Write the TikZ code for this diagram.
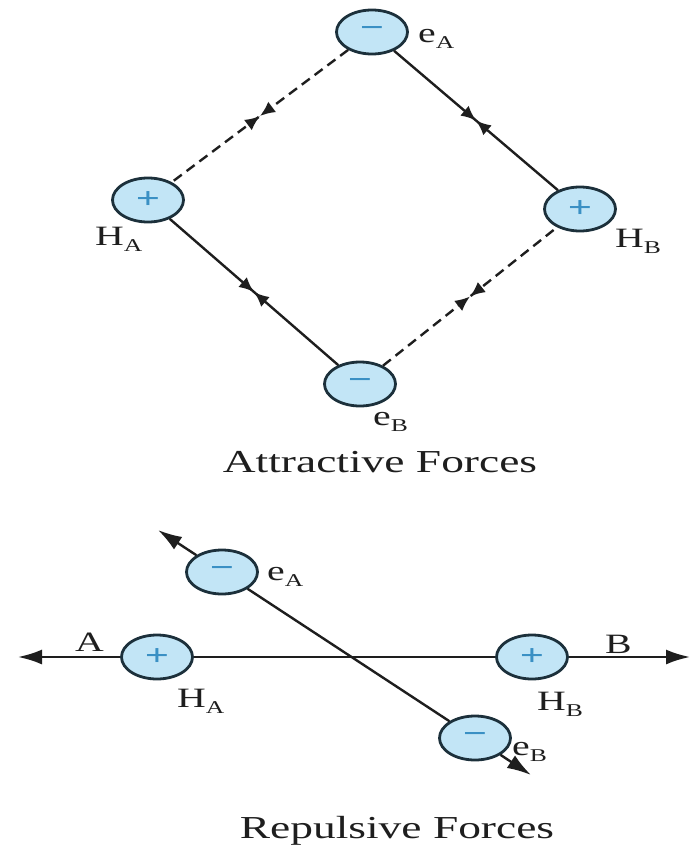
\documentclass[tikz,border=0pt]{standalone}
\usepackage{fontspec}
\setmainfont[FakeStretch=1.42]{Liberation Serif}
\usetikzlibrary{arrows.meta, shapes.geometric, decorations.markings}
\definecolor{ionfill}{HTML}{C2E5F6}
\definecolor{iondraw}{HTML}{1C303B}
\definecolor{signblue}{HTML}{3A90C4}
\definecolor{inkgray}{HTML}{1E1E1E}
\newcommand{\lowsub}[1]{\raisebox{-6pt}{\fontsize{18}{18}\selectfont #1}}
\tikzset{
  ion/.style={ellipse, draw=iondraw, fill=ionfill, line width=2.8pt, minimum width=71pt,
    minimum height=44pt, inner sep=0pt, text=signblue, font=\fontsize{30}{30}\selectfont\bfseries},
  lbl/.style={anchor=base west, inner sep=0pt, font=\fontsize{28}{30}\selectfont, text=inkgray},
  heading/.style={inner sep=0pt, font=\fontsize{32}{36}\selectfont, text=inkgray},
  arr/.style={-{Latex[length=24pt, width=15pt]}, line width=2.4pt, inkgray},
  bond/.style={line width=2.4pt, inkgray},
  pull/.style={bond, postaction={decorate},
    decoration={markings,
      mark=at position 0.5 with {\arrow{Latex[length=15pt, width=13pt]}},
      mark=at position 0.5 with {\arrowreversed{Latex[length=15pt, width=13pt]}}}},
  dashpull/.style={pull, dash pattern=on 10pt off 6pt},
}
\begin{document}
\begin{tikzpicture}[x=1pt, y=-1pt]
  \useasboundingbox (0,0) rectangle (693,849);
  % attractive forces
  \node[ion] (eA1) at (372,32) {−};
  \node[ion] (HA1) at (148,200) {+};
  \node[ion] (HB1) at (580,209) {+};
  \node[ion] (eB1) at (360,384) {−};

  \draw[dashpull] (eA1) -- (HA1);
  \draw[pull] (eA1) -- (HB1);
  \draw[pull] (HA1) -- (eB1);
  \draw[dashpull] (eB1) -- (HB1);

  \node[lbl] (eA1l) at (418,42) {e\lowsub{A}};
  \node[lbl] (HA1l) at (95,245) {H\lowsub{A}};
  \node[lbl] (HB1l) at (615,247) {H\lowsub{B}};
  \node[lbl] (eB1l) at (373,425) {e\lowsub{B}};
  \node[heading] (att) at (380,462) {Attractive Forces};

  % repulsive forces
  \node[ion] (eA2) at (222,572) {−};
  \node[ion] (HA2) at (157,657) {+};
  \node[ion] (HB2) at (532,657) {+};
  \node[ion] (eB2) at (475,738) {−};
  \coordinate (Aend) at (18,657);
  \coordinate (Bend) at (690,657);
  \coordinate (eAend) at (158,530);
  \coordinate (eBend) at (531,775);

  \draw[arr] (HA2) -- (Aend);
  \draw[bond] (HA2) -- (HB2);
  \draw[arr] (HB2) -- (Bend);
  \draw[arr] (eA2) -- (eAend);
  \draw[bond] (eA2) -- (eB2);
  \draw[arr] (eB2) -- (eBend);

  \node[lbl] (Al) at (75,651) {A};
  \node[lbl] (Bl) at (605,653) {B};
  \node[lbl] (eA2l) at (267,580) {e\lowsub{A}};
  \node[lbl] (HA2l) at (177,707) {H\lowsub{A}};
  \node[lbl] (HB2l) at (537,710) {H\lowsub{B}};
  \node[lbl] (eB2l) at (512,755) {e\lowsub{B}};
  \node[heading] (rep) at (397,831) {Repulsive Forces};
\end{tikzpicture}
\end{document}
